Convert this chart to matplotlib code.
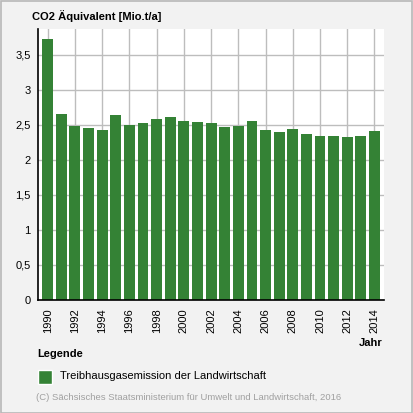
import matplotlib as mpl
mpl.use("Agg")
import matplotlib.pyplot as plt
from matplotlib.patches import Rectangle
import numpy as np

plt.rcParams['font.family'] = ['Liberation Sans', 'DejaVu Sans']

years = list(range(1990, 2015))
emission = [3.73, 2.66, 2.49, 2.46, 2.43, 2.64, 2.50, 2.53, 2.59, 2.61,
            2.56, 2.54, 2.53, 2.47, 2.49, 2.56, 2.43, 2.40, 2.44, 2.37,
            2.34, 2.34, 2.33, 2.34, 2.41]
y_ticks = [0, 0.5, 1, 1.5, 2, 2.5, 3, 3.5]
y_labels = ['0', '0,5', '1', '1,5', '2', '2,5', '3', '3,5']
x_labels = [str(y) for y in years[::2]]

W = 413
green = '#348235'
grid_col = '#bdbdbd'
bg = '#f2f2f2'

fig = plt.figure(figsize=(4.13, 4.13), dpi=100)
fig.patch.set_facecolor(bg)

# plot area in pixels: left 37.5, right 384.3, top 29, bottom 300
ax = fig.add_axes([37.5 / W, (W - 300) / W, (384.3 - 37.5) / W, (300 - 29) / W])
ax.set_facecolor('white')

x = np.arange(len(years))
ax.bar(x, emission, width=0.8, color=green, zorder=2)

ax.set_xlim(-0.75, len(years) - 0.28)
ax.set_ylim(0, 3.87)
ax.set_yticks(y_ticks)
ax.set_yticklabels(y_labels)
ax.set_xticks(x[::2])
ax.set_xticklabels(x_labels, rotation=90)
ax.tick_params(length=0, labelsize=8, colors='black', pad=5)
ax.tick_params(axis='x', pad=6)
ax.grid(True, color=grid_col, linewidth=1, zorder=0)
ax.set_axisbelow(True)
for s in ['top', 'right']:
    ax.spines[s].set_visible(False)
for s in ['left', 'bottom']:
    ax.spines[s].set_color('black')
    ax.spines[s].set_linewidth(1.2)
    ax.spines[s].set_zorder(3)

def px(xp, yp):
    return xp / W, 1 - yp / W

fig.text(*px(31.5, 16), 'CO2 Äquivalent [Mio.t/a]', fontsize=8, fontweight='bold',
         ha='left', va='center')
fig.text(*px(383, 343), 'Jahr', fontsize=8, fontweight='bold', ha='right', va='center')
fig.text(*px(37, 354), 'Legende', fontsize=8, fontweight='bold', ha='left', va='center')

lx, ly = px(37.5, 384)
fig.patches.append(Rectangle((lx, ly), 14 / W, 14.5 / W, transform=fig.transFigure,
                             facecolor=green, edgecolor='white', linewidth=1))
fig.text(*px(59.5, 376), 'Treibhausgasemission der Landwirtschaft', fontsize=8,
         ha='left', va='center')
fig.text(*px(36.5, 397), '(C) Sächsisches Staatsministerium für Umwelt und Landwirtschaft, 2016',
         fontsize=6.8, color='#a0a0a0', ha='left', va='center')

# outer border
fig.patches.append(Rectangle((0.5 / W, 0.5 / W), 1 - 1.5 / W, 1 - 1.5 / W,
                             transform=fig.transFigure, facecolor='none',
                             edgecolor='#b8b8b8', linewidth=1.2))

fig.savefig('out.png', dpi=100, facecolor=bg)
